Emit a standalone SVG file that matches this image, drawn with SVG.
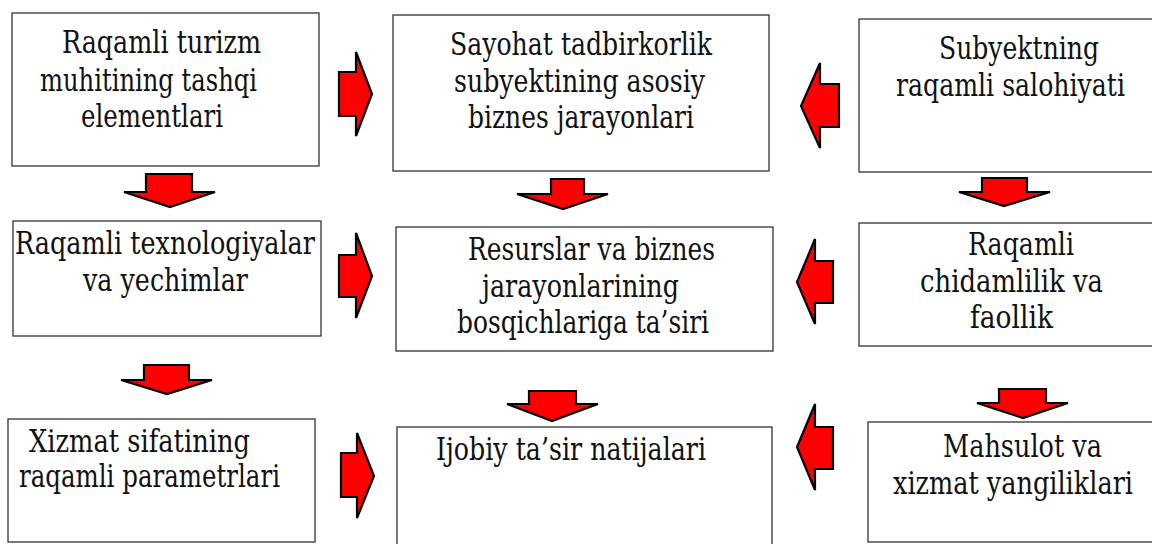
<svg xmlns="http://www.w3.org/2000/svg" width="1152" height="544" viewBox="0 0 1152 544">
<style>
.box{fill:#fff;stroke:#333;stroke-width:1.3}
.t{font-size:32px;fill:#111}
.arr{fill:#ff0000;stroke:#000;stroke-width:2.2;stroke-linejoin:miter}
</style>
<rect width="1152" height="544" fill="#fff"/>
<g font-family="'DejaVu Serif', serif">
<g id="n1"><rect class="box" x="12" y="13" width="307" height="153"/>
<text class="t" x="62" y="53" textLength="199" lengthAdjust="spacingAndGlyphs">Raqamli turizm</text>
<text class="t" x="40" y="91" textLength="217" lengthAdjust="spacingAndGlyphs">muhitining tashqi</text>
<text class="t" x="81" y="127" textLength="142" lengthAdjust="spacingAndGlyphs">elementlari</text></g>
<g id="n2"><rect class="box" x="393" y="15" width="376" height="156"/>
<text class="t" x="450" y="55" textLength="262" lengthAdjust="spacingAndGlyphs">Sayohat tadbirkorlik</text>
<text class="t" x="454" y="92" textLength="251" lengthAdjust="spacingAndGlyphs">subyektining asosiy</text>
<text class="t" x="468" y="128" textLength="226" lengthAdjust="spacingAndGlyphs">biznes jarayonlari</text></g>
<g id="n3"><rect class="box" x="859" y="19" width="300" height="153"/>
<text class="t" x="939" y="59" textLength="160" lengthAdjust="spacingAndGlyphs">Subyektning</text>
<text class="t" x="896" y="96" textLength="229" lengthAdjust="spacingAndGlyphs">raqamli salohiyati</text></g>
<g id="n4"><rect class="box" x="13" y="221" width="308" height="115"/>
<text class="t" x="15" y="254" textLength="300" lengthAdjust="spacingAndGlyphs">Raqamli texnologiyalar</text>
<text class="t" x="83" y="291" textLength="165" lengthAdjust="spacingAndGlyphs">va yechimlar</text></g>
<g id="n5"><rect class="box" x="396" y="227" width="377" height="124"/>
<text class="t" x="468" y="260" textLength="247" lengthAdjust="spacingAndGlyphs">Resurslar va biznes</text>
<text class="t" x="482" y="297" textLength="197" lengthAdjust="spacingAndGlyphs">jarayonlarining</text>
<text class="t" x="457" y="333" textLength="252" lengthAdjust="spacingAndGlyphs">bosqichlariga ta’siri</text></g>
<g id="n6"><rect class="box" x="859" y="223" width="300" height="123"/>
<text class="t" x="968" y="255" textLength="106" lengthAdjust="spacingAndGlyphs">Raqamli</text>
<text class="t" x="920" y="292" textLength="183" lengthAdjust="spacingAndGlyphs">chidamlilik va</text>
<text class="t" x="970" y="328" textLength="83" lengthAdjust="spacingAndGlyphs">faollik</text></g>
<g id="n7"><rect class="box" x="8" y="419" width="307" height="123"/>
<text class="t" x="29" y="452" textLength="221" lengthAdjust="spacingAndGlyphs">Xizmat sifatining</text>
<text class="t" x="19" y="487" textLength="261" lengthAdjust="spacingAndGlyphs">raqamli parametrlari</text></g>
<g id="n8"><rect class="box" x="397" y="427" width="375" height="130"/>
<text class="t" x="436" y="460" textLength="270" lengthAdjust="spacingAndGlyphs">Ijobiy ta’sir natijalari</text></g>
<g id="n9"><rect class="box" x="868" y="422" width="300" height="120"/>
<text class="t" x="943" y="457" textLength="159" lengthAdjust="spacingAndGlyphs">Mahsulot va</text>
<text class="t" x="893" y="494" textLength="240" lengthAdjust="spacingAndGlyphs">xizmat yangiliklari</text></g>
</g>
<g id="connectors">
<polygon class="arr" points="339,72 356,72 356,52 372,94 356,136 356,116 339,116"/>
<polygon class="arr" points="339,255 356,255 356,233 372,276 356,318 356,297 339,297"/>
<polygon class="arr" points="341,453 357,453 357,433 374,476 357,518 357,497 341,497"/>
<polygon class="arr" points="839,84 820,84 820,63 801,106 820,148 820,127 839,127"/>
<polygon class="arr" points="833,261 815,261 815,239 797,282 815,324 815,303 833,303"/>
<polygon class="arr" points="833,427 815,427 815,404 797,447 815,490 815,469 833,469"/>
<polygon class="arr" points="146,174 192,174 192,192 215,192 170,207 124,192 146,192"/>
<polygon class="arr" points="551,179 584,179 584,194 608,194 563,209 517,194 551,194"/>
<polygon class="arr" points="982,178 1027,178 1027,192 1050,192 1004,206 959,192 982,192"/>
<polygon class="arr" points="144,365 189,365 189,380 212,380 167,394 121,380 144,380"/>
<polygon class="arr" points="529,391 576,391 576,404 598,404 552,421 507,404 529,404"/>
<polygon class="arr" points="999,389 1046,389 1046,403 1068,403 1023,418 977,403 999,403"/>
</g>
</svg>
